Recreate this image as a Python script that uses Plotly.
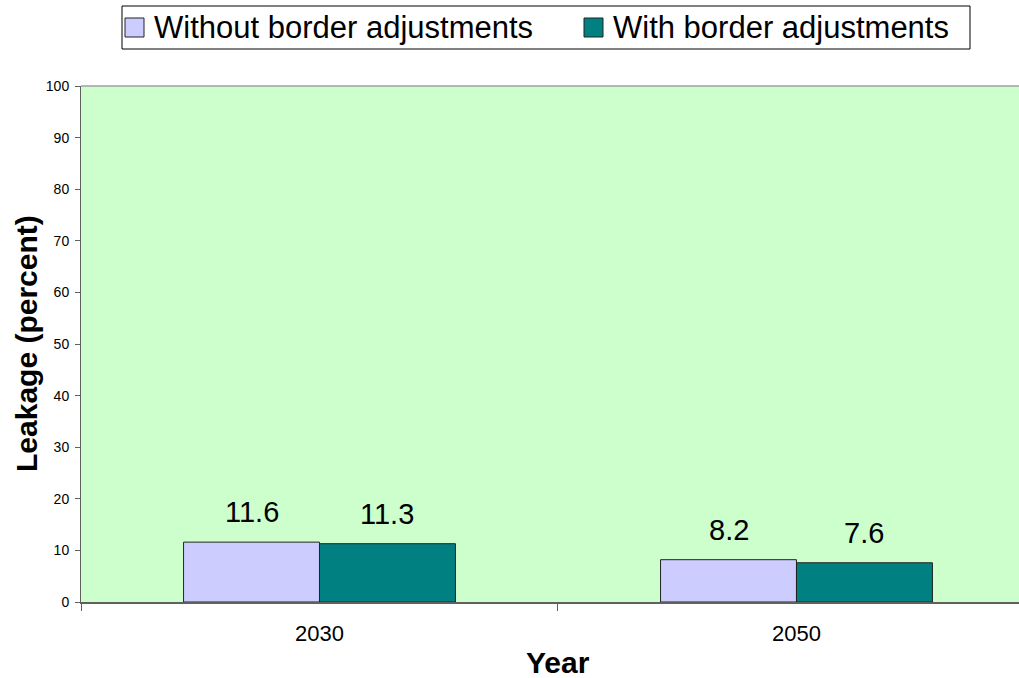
import plotly.graph_objects as go

# Chart data
years = ["2030", "2050"]
series_names = ["Without border adjustments", "With border adjustments"]
without_adj = [11.6, 8.2]
with_adj = [11.3, 7.6]
y_ticks = [0, 10, 20, 30, 40, 50, 60, 70, 80, 90, 100]

W, H = 1019, 678
ML, MR, MT, MB = 81, 0, 86, 76
PW, PH = W - ML - MR, H - MT - MB

FONT = "Arial, Liberation Sans, sans-serif"
colors = ["#CCCCFF", "#008080"]
bar_offsets = [-0.1425, 0.1425]


def px_x(px):
    return (px - ML) / PW


def px_y(py):
    return (H - MB - py) / PH


fig = go.Figure()
for name, vals, col in zip(series_names, [without_adj, with_adj], colors):
    fig.add_trace(go.Bar(
        x=years, y=vals, name=name,
        marker=dict(color=col, line=dict(color="#222222", width=1)),
        showlegend=False,
    ))

annotations = []
# value labels above bars
for vals, off in zip([without_adj, with_adj], bar_offsets):
    for i, v in enumerate(vals):
        annotations.append(dict(
            x=i + off, y=v, xref="x", yref="y", text=f"{v:.1f}",
            showarrow=False, yanchor="bottom", yshift=12,
            font=dict(family=FONT, size=29, color="#000000"),
        ))

# axis titles
annotations.append(dict(
    x=0.5, xref="x", y=px_y(662), yref="paper", text="<b>Year</b>",
    showarrow=False, xanchor="center", yanchor="middle",
    font=dict(family=FONT, size=30, color="#000000"),
))
annotations.append(dict(
    x=px_x(26), xref="paper", y=0.5, yref="paper", text="<b>Leakage (percent)</b>",
    textangle=-90, showarrow=False, xanchor="center", yanchor="middle",
    font=dict(family=FONT, size=30, color="#000000"),
))

# legend built from shapes and text
shapes = [
    dict(type="rect", xref="paper", yref="paper",
         x0=px_x(122), x1=px_x(970), y0=px_y(49), y1=px_y(6),
         line=dict(color="#000000", width=1), fillcolor="#FFFFFF", layer="above"),
    # top border of the plot area
    dict(type="line", xref="paper", yref="paper", x0=0, x1=1, y0=1, y1=1,
         line=dict(color="#A0A0A0", width=1.5)),
]
legend_items = [(125, 152), (584, 611)]
for (mx, tx), name, col in zip(legend_items, series_names, colors):
    shapes.append(dict(type="rect", xref="paper", yref="paper",
                       x0=px_x(mx), x1=px_x(mx + 19), y0=px_y(37), y1=px_y(18),
                       line=dict(color="#222222", width=1), fillcolor=col, layer="above"))
    annotations.append(dict(
        x=px_x(tx), xref="paper", y=px_y(27), yref="paper", text=name,
        showarrow=False, xanchor="left", yanchor="middle",
        font=dict(family=FONT, size=31, color="#000000"),
    ))

fig.update_layout(
    width=W, height=H,
    margin=dict(l=ML, r=MR, t=MT, b=MB, pad=0),
    paper_bgcolor="#FFFFFF", plot_bgcolor="#CCFFCC",
    barmode="group", bargap=0.43, bargroupgap=0,
    showlegend=False,
    annotations=annotations, shapes=shapes,
    font=dict(family=FONT, color="#000000"),
)
fig.update_xaxes(
    type="category", range=[-0.5, 1.4665],
    tickson="boundaries", ticks="outside", ticklen=7, tickcolor="#606060",
    showline=True, linecolor="#606060", linewidth=1.5,
    showgrid=False, zeroline=False,
    tickfont=dict(family=FONT, size=22, color="#000000"),
    ticklabelstandoff=11,
)
fig.update_yaxes(
    range=[0, 100], tickvals=y_ticks, ticks="outside", ticklen=5, tickcolor="#606060",
    showline=True, linecolor="#606060", linewidth=1,
    showgrid=False, zeroline=False,
    tickfont=dict(family=FONT, size=14, color="#000000"),
    ticklabelstandoff=3,
)

fig.write_html("out.html")
